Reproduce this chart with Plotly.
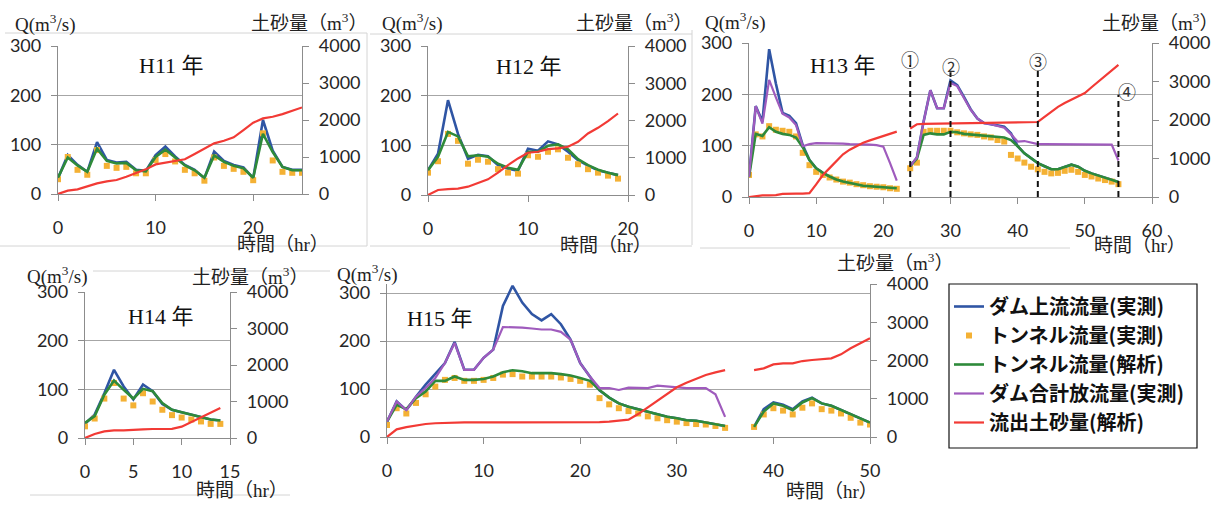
import plotly.graph_objects as go

# ---------------- data ----------------
H11_T = list(range(0, 26))
H11_DAM_IN = [32,79,59,45,105,69,64,65,49,47,79,96,76,59,49,32,86,67,59,54,32,150,88,55,49,49]
H11_TUN_OBS = [30,75,49,39,89,57,53,55,42,42,69,81,66,49,42,27,74,57,51,45,28,123,68,45,43,43]
H11_TUN_SIM = [33,74,58,45,92,67,62,63,48,46,75,90,74,58,48,33,78,65,57,52,33,122,85,55,48,48]
H11_SED = [0,90,126,216,288,342,378,468,558,666,800,850,880,940,1080,1233,1368,1440,1530,1728,1926,2043,2088,2160,2250,2340]

H12_T = list(range(0, 20))
H12_DAM_IN = [50,83,191,123,73,81,78,60,53,49,93,89,108,102,87,70,59,50,45,40]
H12_TUN_OBS = [45,68,123,109,63,71,67,52,45,43,80,77,87,92,75,62,52,45,39,33]
H12_TUN_SIM = [50,77,127,118,78,80,77,63,55,51,87,87,99,102,92,72,60,51,45,40]
H12_SED = [0,134,160,170,223,312,420,598,804,982,1134,1161,1232,1250,1295,1429,1652,1804,1982,2188]

H13_T = list(range(0, 56))
H13_DAM_IN = ([39,177,147,288,221,164,158,144,101,72,56,47,40,34,30,27,24,22,21,20,19,18,17] + [None] +
              [60,77,147,208,173,173,227,218,195,171,153,144,142,140,137,124,99,85,75,66,60,54,54,58,63,59,51,46,42,38,33,29])
H13_TUN_OBS = ([43,122,118,138,131,129,127,118,86,62,49,43,38,34,30,28,25,23,21,20,19,17,16] + [None] +
               [56,67,127,129,129,129,129,126,124,122,121,118,116,111,108,82,75,67,59,54,49,46,47,51,53,49,43,40,36,33,30,25])
H13_TUN_SIM = ([39,123,119,136,127,123,121,116,97,72,56,47,40,34,30,27,24,22,21,20,19,18,17] + [None] +
               [60,75,121,124,122,122,127,126,123,122,121,120,119,118,116,111,99,85,75,66,60,54,54,58,63,59,51,46,42,38,33,29])
H13_DAM_OUT = ([39,177,143,228,194,162,155,140,99,103,105,105,104,104,104,103,103,103,102,101,98,66,32] + [None] +
               [60,77,147,208,173,173,222,216,193,170,153,144,142,138,135,122,108,109,106,103,103,103,103,102,103,103,103,103,103,103,102,71])
H13_SED = ([0,30,40,40,50,80,90,90,90,100,330,570,750,940,1110,1230,1330,1410,1470,1530,1590,1640,1697] + [None] +
           [1780,1890,1897,1900,1905,1910,1914,1918,1922,1926,1930,1932,1934,1936,1938,1940,1942,1944,1946,1948,
            2080,2220,2340,2440,2520,2600,2700,2850,2990,3130,3280,3430])
H13_EVENT_T = [24, 30, 43, 55]
H13_EVENT_TOP = [257, 243, 253, 199]
H13_EVENT_LABEL = ["①", "②", "③", "④"]

H14_T = list(range(0, 15))
H14_DAM_IN = [29,48,92,140,106,79,110,96,70,58,53,48,42,38,36]
H14_TUN_OBS = [24,40,81,113,81,67,92,75,58,47,42,38,34,29,29]
H14_TUN_SIM = [31,45,89,118,99,81,101,96,72,58,53,48,42,38,36]
H14_SED = [0,110,183,210,210,215,237,247,247,250,310,438,548,676,822]

H15_T = list(range(0, 51))
H15_DAM_IN = ([32,74,56,84,109,131,154,198,140,140,165,182,273,315,280,256,243,256,235,203,154,126,97,82,70,63,58,53,47,42,39,35,34,30,27,23] +
              [None, None] + [21,58,72,67,58,74,82,70,65,56,47,39,30])
H15_TUN_OBS = ([25,60,49,71,89,105,119,123,117,117,119,123,130,131,126,126,126,126,124,121,117,109,81,68,60,54,49,43,39,35,32,29,27,26,23,19] +
               [None, None] + [21,47,60,55,47,61,70,58,55,49,40,30,26])
H15_TUN_SIM = ([32,67,58,81,95,117,117,126,119,119,121,126,135,139,137,133,133,133,131,128,123,117,98,82,70,63,58,53,47,42,39,35,34,30,27,23] +
               [None, None] + [21,53,70,65,56,72,81,70,65,56,47,39,30])
H15_DAM_OUT = ([32,74,56,84,102,123,154,196,140,140,165,182,229,229,228,226,224,224,219,203,154,126,102,102,98,103,103,102,107,105,103,102,102,102,89,42] +
               [None] * 15)
H15_SED = ([0,200,260,300,340,360,370,380,380,380,380,380,380,380,380,380,380,380,380,380,380,385,390,400,420,455,600,780,960,1130,1300,1420,1530,1620,1690,1750] +
           [None, None] + [1750,1794,1899,1925,1925,1986,2013,2030,2056,2161,2319,2450,2581])

SERIES_NAMES = ["ダム上流流量(実測)", "トンネル流量(実測)", "トンネル流量(解析)", "ダム合計放流量(実測)", "流出土砂量(解析)"]
PANEL_TITLES = ["H11 年", "H12 年", "H13 年", "H14 年", "H15 年"]
X_MAX = [25, 20, 60, 15, 50]
X_DTICK = [10, 10, 10, 5, 10]

# ---------------- styling / layout ----------------
W, H = 1227, 506
BLUE, ORANGE, GREEN, PURPLE, RED = "#2f55a4", "#f4b134", "#2e8a3a", "#9f5bbd", "#f23a35"
TICK_FONT = dict(family="Lato, Liberation Sans, sans-serif", size=18, color="#262626")
SERIF = "Liberation Serif, Noto Sans CJK JP, serif"
GRID = "#a6a6a6"
AXLINE = "#8c8c8c"

# pixel boxes of plot areas: (left, right, top, bottom)
BOXES = [(58, 302, 46, 194), (428, 628, 46, 195), (749, 1152, 43, 197), (85, 230, 292, 438), (387, 870, 284, 437)]
Q_TOP = [300, 300, 300, 300, 318.75]

panels = [
    (H11_T, H11_DAM_IN, H11_TUN_OBS, H11_TUN_SIM, None, H11_SED),
    (H12_T, H12_DAM_IN, H12_TUN_OBS, H12_TUN_SIM, None, H12_SED),
    (H13_T, H13_DAM_IN, H13_TUN_OBS, H13_TUN_SIM, H13_DAM_OUT, H13_SED),
    (H14_T, H14_DAM_IN, H14_TUN_OBS, H14_TUN_SIM, None, H14_SED),
    (H15_T, H15_DAM_IN, H15_TUN_OBS, H15_TUN_SIM, H15_DAM_OUT, H15_SED),
]

def px(x):
    return x / W

def py(y):
    return 1 - y / H

fig = go.Figure()
layout = {}
for i, (t, dam_in, tun_obs, tun_sim, dam_out, sed) in enumerate(panels):
    k = i + 1
    xa = "x" if k == 1 else f"x{k}"
    yl_n, yr_n = 2 * k - 1, 2 * k
    yl = "y" if yl_n == 1 else f"y{yl_n}"
    yr = f"y{yr_n}"
    left, right, top, bottom = BOXES[i]
    show = (k == 5)

    fig.add_trace(go.Scatter(x=t, y=dam_in, mode="lines", line=dict(color=BLUE, width=2.6),
                             name=SERIES_NAMES[0], legendgroup="g1", xaxis=xa, yaxis=yl, showlegend=show))
    fig.add_trace(go.Scatter(x=t, y=tun_obs, mode="markers", marker=dict(symbol="square", size=6, color=ORANGE),
                             name=SERIES_NAMES[1], legendgroup="g2", xaxis=xa, yaxis=yl, showlegend=show))
    fig.add_trace(go.Scatter(x=t, y=tun_sim, mode="lines", line=dict(color=GREEN, width=2.6),
                             name=SERIES_NAMES[2], legendgroup="g3", xaxis=xa, yaxis=yl, showlegend=show))
    if dam_out is not None:
        fig.add_trace(go.Scatter(x=t, y=dam_out, mode="lines", line=dict(color=PURPLE, width=2.2),
                                 name=SERIES_NAMES[3], legendgroup="g4", xaxis=xa, yaxis=yl, showlegend=show))
    fig.add_trace(go.Scatter(x=t, y=sed, mode="lines", line=dict(color=RED, width=2.2),
                             name=SERIES_NAMES[4], legendgroup="g5", xaxis=xa, yaxis=yr, showlegend=show))

    xkey = "xaxis" if k == 1 else f"xaxis{k}"
    ylkey = "yaxis" if yl_n == 1 else f"yaxis{yl_n}"
    yrkey = f"yaxis{yr_n}"
    layout[xkey] = dict(domain=[px(left), px(right)], anchor=yl, range=[0, X_MAX[i]], dtick=X_DTICK[i],
                        showgrid=False, zeroline=False, showline=True, linecolor=AXLINE, linewidth=1.3,
                        ticks="outside", ticklen=6, tickcolor=AXLINE, tickfont=TICK_FONT,
                        ticklabelstandoff=11, fixedrange=True, automargin=False)
    layout[ylkey] = dict(domain=[py(bottom), py(top)], anchor=xa, range=[0, Q_TOP[i]], tickvals=[0, 100, 200, 300],
                         showgrid=True, gridcolor=GRID, gridwidth=1.3, zeroline=False, showline=True,
                         linecolor=AXLINE, linewidth=1.3, ticks="outside", ticklen=6, tickcolor=AXLINE,
                         tickfont=TICK_FONT, ticklabelstandoff=6, fixedrange=True, automargin=False)
    layout[yrkey] = dict(overlaying=yl, anchor=xa, side="right", range=[0, 4000],
                         tickvals=[0, 1000, 2000, 3000, 4000], showgrid=False, zeroline=False, showline=True,
                         linecolor=AXLINE, linewidth=1.3, ticks="outside", ticklen=6, tickcolor=AXLINE,
                         tickfont=TICK_FONT, ticklabelstandoff=6, fixedrange=True, automargin=False)

annotations = []

def add_text(x, y, text, font):
    annotations.append(dict(x=px(x), y=py(y), xref="paper", yref="paper", showarrow=False, text=text,
                            xanchor="center", yanchor="middle", font=font))

# axis titles and panel titles (pixel centres)
Q_POS = [(45, 24), (412, 23), (735, 22), (57, 275), (367, 273)]
SED_POS = [(309, 22), (634, 22), (1160, 22), (250, 276), (895, 262)]
TIME_POS = [(283, 244), (606, 245), (1140, 245), (242, 490), (832, 491)]
TITLE_POS = [(171, 65), (528, 66), (842, 65), (160, 316), (439, 318)]
for i in range(5):
    add_text(*Q_POS[i], "Q(m<sup>3</sup>/s)", dict(family=SERIF, size=19, color="#222"))
    add_text(*SED_POS[i], "土砂量（m<sup>3</sup>）", dict(family=SERIF, size=19, color="#222"))
    add_text(*TIME_POS[i], "時間（hr）", dict(family=SERIF, size=19, color="#222"))
    add_text(*TITLE_POS[i], PANEL_TITLES[i], dict(family=SERIF, size=22, color="#111"))

shapes = []
# H13 event markers (dashed lines + circled numbers)
for j, (tx, top, lab) in enumerate(zip(H13_EVENT_T, H13_EVENT_TOP, H13_EVENT_LABEL)):
    shapes.append(dict(type="line", xref="x3", yref="y5", x0=tx, x1=tx, y0=0, y1=top,
                       line=dict(color="#111", width=2, dash="6px,4px")))
    lx = tx + (1.3 if j == 3 else 0)
    ly = top + (8 if j == 3 else 12)
    annotations.append(dict(x=lx, y=ly, xref="x3", yref="y5", showarrow=False, text=lab,
                            xanchor="center", yanchor="middle",
                            font=dict(family="Noto Sans CJK JP", size=18, color="#333")))

# faint chart-frame lines
FRAME = "#d4d4d4"
for (x0, y0, x1, y1) in [(5, 33, 367, 33), (367, 33, 367, 246), (0, 246, 367, 246),
                         (370, 34, 692, 34), (692, 30, 692, 245), (370, 246, 692, 246),
                         (700, 248, 1070, 248), (30, 495, 290, 495), (93, 271, 330, 271)]:
    shapes.append(dict(type="line", xref="paper", yref="paper", x0=px(x0), x1=px(x1), y0=py(y0), y1=py(y1),
                       line=dict(color=FRAME, width=1)))
# legend box
shapes.append(dict(type="rect", xref="paper", yref="paper", x0=px(949), x1=px(1197), y0=py(448), y1=py(284),
                   line=dict(color="#111", width=1.2), fillcolor="rgba(0,0,0,0)"))

fig.update_layout(
    width=W, height=H, margin=dict(l=0, r=0, t=0, b=0, pad=0, autoexpand=False),
    paper_bgcolor="white", plot_bgcolor="white",
    showlegend=True,
    legend=dict(x=px(949), y=py(287), xanchor="left", yanchor="top", bgcolor="rgba(0,0,0,0)", borderwidth=0,
                font=dict(family="Noto Sans CJK JP", size=20, color="#111", weight=700),
                itemwidth=30, tracegroupgap=0, traceorder="grouped"),
    annotations=annotations, shapes=shapes,
    **layout,
)

fig.write_html("out.html", include_plotlyjs=True, config={"displayModeBar": False},
               post_script="document.body.style.margin='0';document.body.style.padding='0';")
